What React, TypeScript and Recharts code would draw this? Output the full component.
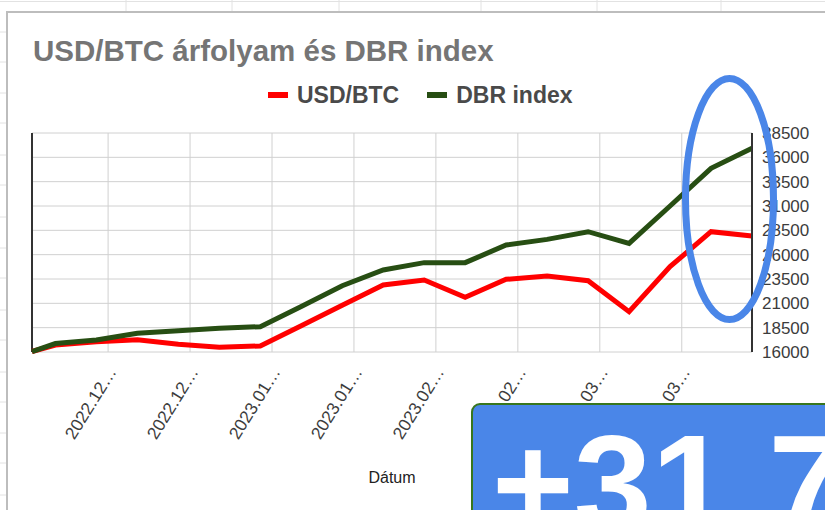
import React from "react";
import {
  LineChart,
  Line,
  XAxis,
  YAxis,
  CartesianGrid,
  Legend,
  ReferenceLine,
  Label,
} from "recharts";

// Days since the first observation
const dayOffsets = [0, 4, 11, 18, 25, 32, 39, 46, 53, 60, 67, 74, 81, 88, 95, 102, 109, 116, 123];
const usdBtc = [16050, 16720, 17060, 17250, 16800, 16480, 16620, 18700, 20800, 22880, 23400, 21620, 23470, 23800, 23330, 20140, 24770, 28360, 27920];
const dbrIndex = [16050, 16870, 17230, 17920, 18190, 18430, 18600, 20670, 22810, 24430, 25180, 25180, 26990, 27570, 28360, 27160, 31000, 34870, 36930];

const xTickDays = [13, 27, 41, 55, 69, 83, 97, 111];
const xTickLabels = ["2022.12…", "2022.12…", "2023.01…", "2023.01…", "2023.02…", "2023.02…", "2023.03…", "2023.03…"];
const yTicks = [16000, 18500, 21000, 23500, 26000, 28500, 31000, 33500, 36000, 38500];

const seriesNames = ["USD/BTC", "DBR index"];
const titleText = "USD/BTC árfolyam és DBR index";
const xAxisTitle = "Dátum";
const badgeText = "+31.7";

const data = dayOffsets.map((d, i) => ({ day: d, usd: usdBtc[i], dbr: dbrIndex[i] }));

const FONT = "'Liberation Sans', Arial, sans-serif";

const sheetColLines = [126, 232, 339, 481, 597, 721];
const sheetRowLines = [32, 62, 93, 123, 155, 185, 217, 248, 278, 310, 340, 372, 402, 433, 463, 495];

const XTick = (props: any) => {
  const { x, y, payload } = props;
  const idx = xTickDays.indexOf(payload.value);
  const tx = x + 9;
  const ty = y + 12;
  return (
    <text
      x={tx}
      y={ty}
      transform={`rotate(-58 ${tx} ${ty})`}
      textAnchor="end"
      fontSize={17.5}
      fill="#3c3c3c"
      fontFamily={FONT}
    >
      {xTickLabels[idx]}
    </text>
  );
};

const renderLegend = (props: any) => {
  const items = [...(props.payload || [])].sort(
    (a: any, b: any) => seriesNames.indexOf(a.value) - seriesNames.indexOf(b.value)
  );
  return (
    <div style={{ display: "flex", alignItems: "center", fontFamily: FONT, height: 22 }}>
      {items.map((p: any, i: number) => (
        <div key={i} style={{ display: "flex", alignItems: "center", marginRight: i === 0 ? 28 : 0 }}>
          <span style={{ display: "inline-block", width: 20, height: 6, background: p.color, marginRight: 9 }} />
          <span style={{ fontSize: 23, fontWeight: 700, color: "#4a4a4a", lineHeight: 1 }}>{p.value}</span>
        </div>
      ))}
    </div>
  );
};

export default function App() {
  return (
    <div
      style={{
        position: "fixed",
        left: 0,
        top: 0,
        width: 825,
        height: 510,
        overflow: "hidden",
        background: "#fff",
        fontFamily: FONT,
      }}
    >
      {/* spreadsheet background lines */}
      <svg width={825} height={510} style={{ position: "absolute", left: 0, top: 0 }}>
        <line x1={0} y1={1.5} x2={825} y2={1.5} stroke="#e2e2e2" strokeWidth={1} />
        {sheetColLines.map((x, i) => (
          <line key={"c" + i} x1={x} y1={0} x2={x} y2={12} stroke="#e2e2e2" strokeWidth={1} />
        ))}
        {sheetRowLines.map((y, i) => (
          <line key={"r" + i} x1={0} y1={y} x2={7} y2={y} stroke="#e2e2e2" strokeWidth={1} />
        ))}
      </svg>
      {/* chart card */}
      <div
        style={{
          position: "absolute",
          left: 6,
          top: 11,
          width: 840,
          height: 520,
          border: "2px solid #bdbdbd",
          background: "#fff",
          boxSizing: "border-box",
        }}
      />
      <div
        style={{
          position: "absolute",
          left: 33,
          top: 36,
          fontSize: 29.5,
          lineHeight: 1,
          fontWeight: 700,
          color: "#757575",
          whiteSpace: "nowrap",
        }}
      >
        {titleText}
      </div>
      <div style={{ position: "absolute", left: 0, top: 0 }}>
        <LineChart
          width={825}
          height={510}
          data={data}
          margin={{ top: 111, right: 13, bottom: 8, left: 32 }}
          style={{ fontFamily: FONT }}
        >
          <CartesianGrid stroke="#d0d0d0" strokeWidth={1} />
          <XAxis
            dataKey="day"
            type="number"
            domain={[0, 123]}
            ticks={xTickDays}
            tick={<XTick />}
            tickLine={false}
            axisLine={false}
            height={150}
            interval={0}
          >
            <Label
              value={xAxisTitle}
              position="insideTop"
              offset={120}
              fill="#222"
              fontSize={16}
              fontFamily={FONT}
            />
          </XAxis>
          <YAxis
            orientation="right"
            domain={[16000, 38500]}
            ticks={yTicks}
            interval={0}
            width={60}
            tickLine={false}
            tickSize={8}
            axisLine={{ stroke: "#333", strokeWidth: 2 }}
            tick={{ fill: "#3c3c3c", fontSize: 17, fontFamily: FONT, textAnchor: "start" }}
          />
          <ReferenceLine x={0} stroke="#333" strokeWidth={2} />
          <Legend
            verticalAlign="top"
            content={renderLegend}
            wrapperStyle={{ position: "absolute", left: 268, top: 84, width: "auto" }}
          />
          <Line
            name={seriesNames[0]}
            dataKey="usd"
            stroke="#ff0000"
            strokeWidth={5}
            dot={false}
            type="linear"
            isAnimationActive={false}
          />
          <Line
            name={seriesNames[1]}
            dataKey="dbr"
            stroke="#274e13"
            strokeWidth={5}
            dot={false}
            type="linear"
            isAnimationActive={false}
          />
        </LineChart>
      </div>
      {/* annotation overlays */}
      <svg width={825} height={510} style={{ position: "absolute", left: 0, top: 0, pointerEvents: "none" }}>
        <ellipse cx={729.5} cy={199} rx={44} ry={120.5} fill="none" stroke="#4a86e8" strokeWidth={7} />
      </svg>
      <div
        style={{
          position: "absolute",
          left: 471,
          top: 403,
          width: 420,
          height: 160,
          background: "#4a86e8",
          border: "2px solid #38761d",
          borderRadius: 9,
          boxSizing: "border-box",
        }}
      />
      <div
        style={{
          position: "absolute",
          left: 492,
          top: 414,
          fontSize: 140,
          lineHeight: 1,
          fontWeight: 700,
          color: "#fff",
          whiteSpace: "nowrap",
        }}
      >
        {badgeText}
      </div>
    </div>
  );
}
